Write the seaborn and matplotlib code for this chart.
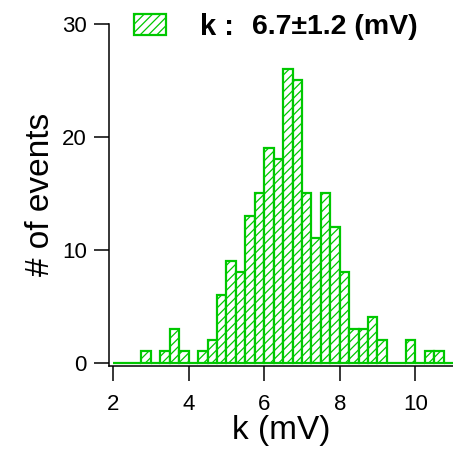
import numpy as np
import pandas as pd
import matplotlib
matplotlib.use("Agg")
import matplotlib.pyplot as plt
import seaborn as sns
from matplotlib.patches import Patch

# ---- data ----
bin_start = 2.0
bin_width = 0.25
counts = [0, 0, 0, 1, 0, 1, 3, 1, 0, 1, 2, 6, 9, 8, 13, 15, 19, 18,
          26, 25, 15, 11, 15, 12, 8, 3, 3, 4, 2, 0, 0, 2, 0, 1, 1, 0]
x_ticks = [2, 4, 6, 8, 10]
y_ticks = [0, 10, 20, 30]
x_label = "k (mV)"
y_label = "# of events"
legend_key = "k :"
legend_value = "6.7±1.2 (mV)"

GREEN = "#00c800"

sns.set_style("ticks")
plt.rcParams["font.family"] = ["Liberation Sans", "DejaVu Sans"]
plt.rcParams["text.color"] = "black"
plt.rcParams["axes.labelcolor"] = "black"
plt.rcParams["hatch.linewidth"] = 0.9
plt.rcParams["hatch.color"] = GREEN

edges = [float(e) for e in bin_start + bin_width * np.arange(len(counts) + 1)]
centers = [(a + b) / 2 for a, b in zip(edges[:-1], edges[1:])]
df = pd.DataFrame({"k": centers, "n": counts})

fig = plt.figure(figsize=(4.53, 4.57), dpi=100)
ax = fig.add_axes([109 / 453, 1 - 366 / 457, (453 - 109) / 453, (366 - 23.5) / 457])

sns.histplot(data=df, x="k", weights="n", bins=edges, ax=ax, element="bars",
             fill=True, stat="count")
for p in ax.patches:
    p.set_facecolor("white")
    p.set_edgecolor(GREEN)
    p.set_hatch("////")
    p.set_linewidth(1.6)
    p.set_alpha(None)

ax.set_xlim(1.89, 11.0)
ax.set_ylim(-0.3, 30)
ax.set_xticks(x_ticks)
ax.set_yticks(y_ticks)
ax.set_xlabel(x_label, fontsize=24, labelpad=0, color="black")
ax.set_ylabel(y_label, fontsize=24, labelpad=4, color="black")
ax.tick_params(axis="both", direction="out", length=11, width=1.1, colors="black",
               labelsize=16)
ax.tick_params(axis="x", pad=9)
ax.tick_params(axis="y", pad=5)
for s in ["top", "right"]:
    ax.spines[s].set_visible(False)
for s in ["left", "bottom"]:
    ax.spines[s].set_linewidth(1.1)
    ax.spines[s].set_color("black")

handle = Patch(facecolor="white", edgecolor=GREEN, hatch="////", linewidth=1.6)
fig.legend(handles=[handle], labels=[legend_key], loc="center left",
           bbox_to_anchor=(134 / 453, 1 - 27 / 457), frameon=False,
           borderpad=0, borderaxespad=0, handlelength=1.1, handleheight=0.72,
           handletextpad=1.15, prop={"weight": "bold", "size": 21},
           labelcolor="black")
fig.text(252 / 453, 1 - 27 / 457, legend_value, ha="left", va="center",
         fontsize=20.5, fontweight="bold", color="black")

fig.savefig("out.png", dpi=100)
